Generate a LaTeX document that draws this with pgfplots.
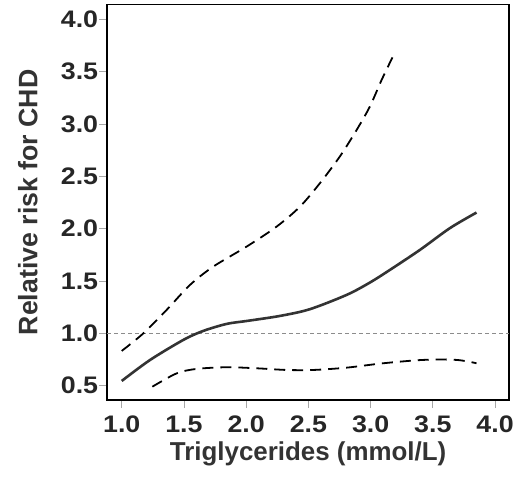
\documentclass[border=0pt]{standalone}
\usepackage{fontspec}
\setmainfont{Liberation Sans}
\newfontfamily\tickfont[FakeStretch=1.12]{Liberation Sans}
\usepackage{pgfplots}
\pgfplotsset{compat=1.18}
\begin{document}
\begin{tikzpicture}
\begin{axis}[
  name=ax,
  scale only axis,
  width=401.7bp, height=395.3bp,
  xmin=0.884, xmax=4.112,
  ymin=0.363, ymax=4.14,
  xtick={1.0,1.5,...,4.0},
  ytick={0.5,1.0,...,4.0},
  tick align=outside,
  major tick length=8bp,
  tick style={black!35, line width=0.8bp},
  axis line style={black, line width=1.6bp},
  xtick pos=bottom, ytick pos=left,
  /pgf/number format/.cd, fixed, fixed zerofill, precision=1, assume math mode=true,
  /pgfplots/.cd,
  ticklabel style={font=\tickfont\fontsize{24}{28}\selectfont\bfseries, text=black!85},
  yticklabel style={inner sep=1bp},
  xticklabel style={inner sep=2bp, yshift=-6bp},
  xlabel={Triglycerides (mmol/L)},
  ylabel={Relative risk for CHD},
  label style={font=\fontsize{26}{30}\selectfont\bfseries, text=black!80},
  xlabel style={inner sep=0pt, yshift=-6bp},
  ylabel style={inner sep=0pt, yshift=22bp, font=\fontsize{26.8}{30}\selectfont\bfseries},
  clip=false,
]
\addplot[black!45, line width=0.6bp, dash pattern=on 4bp off 3bp, forget plot] coordinates {(0.884,1.0) (4.112,1.0)};
% estimate
\addplot[black!80, line width=2.6bp, smooth] coordinates {
(1.0,0.545) (1.227,0.745) (1.495,0.937) (1.655,1.023) (1.843,1.09) (2.004,1.118)
(2.27,1.166) (2.51,1.23) (2.807,1.367) (2.994,1.485) (3.155,1.606) (3.396,1.797)
(3.637,2.005) (3.851,2.154)};
% upper CI
\addplot[black, line width=1.8bp, dash pattern=on 11bp off 7bp, smooth] coordinates {
(1.0,0.832) (1.174,1.0) (1.361,1.224) (1.549,1.463) (1.736,1.638) (2.004,1.829)
(2.245,2.02) (2.432,2.21) (2.593,2.435) (2.753,2.69) (2.888,2.944) (2.994,3.167)
(3.088,3.42) (3.177,3.64)};
% lower CI
\addplot[black, line width=1.8bp, dash pattern=on 11bp off 7bp, smooth] coordinates {
(1.246,0.49) (1.442,0.618) (1.602,0.66) (1.843,0.676) (2.084,0.666) (2.325,0.65)
(2.539,0.65) (2.807,0.672) (3.101,0.714) (3.422,0.746) (3.69,0.746) (3.851,0.714)};
\end{axis}
\path (ax.south west) ++(-107.3bp,-83bp) coordinate (bl);
\path (ax.north east) ++(23bp,4.7bp) coordinate (tr);
\useasboundingbox (bl) rectangle (tr);
\end{tikzpicture}
\end{document}
